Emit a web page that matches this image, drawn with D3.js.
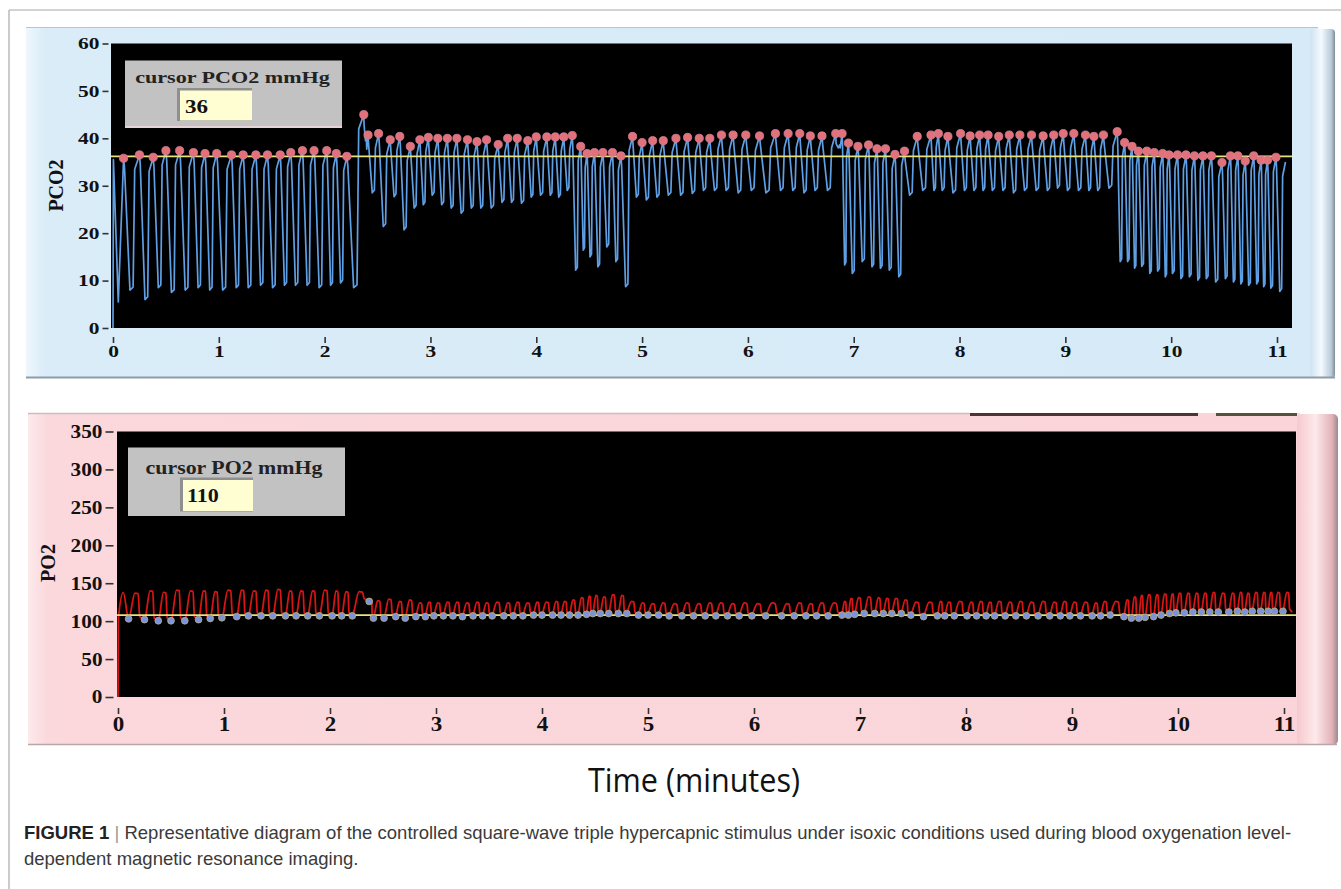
<!DOCTYPE html>
<html><head><meta charset="utf-8">
<script src="https://cdn.jsdelivr.net/npm/d3@7"></script>
<style>
body{margin:0;background:#fff;}
svg{display:block;}
</style></head><body>
<svg id="chart" width="1341" height="889"></svg>
<script>
// ---------------- DATA ----------------
const timeTicks = [0,1,2,3,4,5,6,7,8,9,10,11];
const pco2Ticks = [0,10,20,30,40,50,60];
const po2Ticks  = [0,50,100,150,200,250,300,350];

// time (min) of each end-tidal marker (one per breath)
const breathTime = [
 0.10,0.25,0.38,0.50,0.63,0.76,0.87,0.98,1.12,1.23,1.35,1.46,1.58,1.68,1.79,1.90,2.02,2.11,2.21,
 2.37,2.41,2.51,2.62,2.71,2.81,2.90,2.98,3.07,3.16,3.25,3.35,3.44,3.53,3.64,3.73,3.82,3.92,4.00,4.10,4.18,4.26,4.34,
 4.42,4.48,4.55,4.63,4.72,4.80,
 4.91,5.00,5.10,5.20,5.32,5.43,5.54,5.64,5.75,5.86,5.98,6.11,6.26,6.38,6.49,6.59,6.70,6.83,6.89,
 6.95,7.04,7.14,7.22,7.30,7.39,7.48,
 7.60,7.73,7.80,7.89,8.01,8.10,8.19,8.27,8.37,8.47,8.57,8.68,8.79,8.89,8.98,9.08,9.19,9.27,9.36,9.49,
 9.56,9.63,9.69,9.77,9.84,9.92,9.98,10.06,10.14,10.22,10.30,10.38,10.48,10.56,10.63,10.70,10.78,10.85,10.91,10.99
];
// end-tidal PCO2 (mmHg), red markers
const etPCO2 = [
 35.8,36.5,36,37.4,37.4,37,36.8,36.8,36.5,36.5,36.5,36.5,36.5,37,37.4,37.4,37.4,36.8,36.2,
 45,40.7,41,39.7,40.4,38.3,39.7,40.2,40,40,40,39.7,39.3,39.7,38.7,40,40,39.5,40.3,40.3,40.3,40.3,40.6,
 38.3,36.8,37,37,37,36.3,
 40.4,39.1,39.5,39.5,40,40.2,40,40,40.7,40.7,40.7,40.5,41,41,41,40.5,40.5,41,41,
 39,38.3,38.6,37.8,37.8,36.6,37.3,
 40.4,40.7,41,40.4,41,40.5,40.7,40.7,40.4,40.7,40.7,40.7,40.5,40.7,41,41,40.7,40.4,40.7,41.4,
 39.1,38.3,37.3,37.3,37,36.8,36.5,36.5,36.5,36.3,36.3,36.3,34.9,36.3,36.3,35.2,36.3,35.4,35.4,36
];
// inspired (trough) PCO2 following each breath
const inspPCO2 = [
 8,6,8.5,7.5,8,8.5,8,8,8.5,8.5,9,8.5,9,9,9,8.5,9,9.5,8.5,
 39.5,28.5,21.4,27.7,20.7,25.3,26,28,26,25.3,24.2,25.3,25.3,25.3,26.5,26.5,26.3,27.6,28,28,27.6,29,12.2,
 16.4,15,12.9,17.1,14,8.7,
 27.6,27,27.6,28,28,28.4,29,29,29,28.5,29,28.5,29,29,28.5,29,29,38,13.3,
 11.5,14,12.9,12.6,12.2,10.8,28,
 29,29,29,28.5,29,29,29,29,29,28.5,29,29,29,29.5,29,29,29,29,29.5,14,
 14,12.6,13,11.5,12,10.8,11.5,10.4,10.8,10.1,10.4,9.7,10.4,9.7,9.3,9,9.3,8.7,8.4,7.7
];
// end-tidal PO2 (mmHg), blue markers
const etPO2 = [
 103,102,100.5,100.5,100.5,102,103.5,104.5,106,107,107,107,107,107,107,107,107,107,107,
 126,104,104,106,104,106,106,107,107,107,106,107,107,107,107,107,107,108,108,108,108,108,108,
 109,110,110,110,110,110,
 108,108,108,107,107,107,107,107,107,107,107,107,107,107,107,107,107,108,108,
 109,110,110,110,110,110,108,
 106,107,107,107,107,107,107,107,107,107,107,107,107,107,107,107,107,107,108,106,
 104,104,105,106,108,110,111,111,112,112,112,112,112,113,112,113,113,113,113,113
];
// inspired (peak) PO2 following each breath
const inspPO2 = [
 137,140,138,141,140,140,139,141,141,140,141,142,140,140,140,141,140,139,139,
 128,127,129,126,128,124,125,124,125,125,124,125,124,125,124,125,124,125,125,126,126,128,131,
 133,134,132,135,134,126,
 124,123,124,123,124,123,124,124,123,124,123,124,123,124,123,124,124,126,130,
 131,132,131,130,130,128,125,
 125,126,125,126,125,126,125,126,125,126,125,126,125,126,125,125,124,126,126,128,
 132,134,135,135,136,136,137,137,137,137,138,137,137,138,137,138,138,138,138,138
];
// beginning and end of the recording
const startTime = [0, 0.004, 0.05];
const startPCO2 = [0, 35.5, 5.5];
const startPO2  = [0, 104, 138];
const endTime = 11.08;
const endPCO2 = 35;
const endPO2  = 112;
// cursor / reference levels
const cursorPCO2 = 36;
const cursorPO2  = 110;
const refPCO2 = 36.2;
const refPO2  = 108;

// ---------------- DRAWING ----------------
const svg = d3.select("#chart");
const defs = svg.append("defs");
const SERIF = "'Liberation Serif','Times New Roman',serif";

function stretch(sel, sx){
  sel.each(function(){
    const t = d3.select(this);
    const x = +t.attr("x") || 0, y = +t.attr("y") || 0;
    t.attr("transform", `translate(${x},${y}) scale(${sx},1) translate(${-x},${-y})`);
  });
}
function grad(id, stops, x2, y2){
  const g = defs.append("linearGradient").attr("id", id)
    .attr("x1",0).attr("y1",0).attr("x2",x2).attr("y2",y2);
  stops.forEach(s => g.append("stop").attr("offset", s[0]).attr("stop-color", s[1]));
}
grad("blueBg", [[0,"#eef7fd"],[0.015,"#d9ecf8"],[1,"#d6eaf7"]], 1, 0);
grad("pinkBg", [[0,"#fdeaec"],[0.015,"#fbd8dc"],[1,"#fad4d8"]], 1, 0);
grad("blueBar", [[0,"#cfe3f1"],[0.45,"#f4fafe"],[0.85,"#b9cbd8"],[1,"#7d8c98"]], 1, 0);
grad("pinkBar", [[0,"#f6c9cd"],[0.45,"#fde9eb"],[0.85,"#e3b3b8"],[1,"#9a8a8c"]], 1, 0);

// figure frame
svg.append("line").attr("x1",9).attr("y1",10).attr("x2",1341).attr("y2",10).attr("stroke","#a8a8a8").attr("stroke-width",1.2);
svg.append("line").attr("x1",9).attr("y1",10).attr("x2",9).attr("y2",889).attr("stroke","#a8a8a8").attr("stroke-width",1.2);

// breath-by-breath waveform built from the per-breath values
function buildSeries(times, et, insp, sT, sV, eT, eV, rise){
  const pts = sT.map((t,i)=>({t, v:sV[i]}));
  for(let i=0;i<times.length;i++){
    const t = times[i];
    const last = i === times.length-1;
    const nt = last ? eT : times[i+1];
    const nv = last ? eV : et[i+1];
    const d = nt - t;
    pts.push({t, v:et[i]});
    pts.push({t:t+0.06*d, v:et[i] - rise*0.7});
    pts.push({t:t+0.40*d, v:insp[i]});
    pts.push({t:t+0.60*d, v:insp[i] + rise*0.2});
    pts.push({t:t+0.70*d, v:nv - rise});
  }
  pts.push({t:eT, v:eV});
  return pts;
}

// ======== TOP PANEL (PCO2) ========
const panelT = svg.append("g");
panelT.append("rect").attr("x",26).attr("y",27).attr("width",1292).attr("height",351).attr("fill","url(#blueBg)");
panelT.append("rect").attr("x",1310).attr("y",29).attr("width",25).attr("height",349).attr("rx",4).attr("fill","url(#blueBar)");
panelT.append("line").attr("x1",26).attr("y1",27.5).attr("x2",1318).attr("y2",27.5).attr("stroke","#b4c6d4");
panelT.append("line").attr("x1",26).attr("y1",377.5).attr("x2",1335).attr("y2",377.5).attr("stroke","#8e9ca8").attr("stroke-width",2);

const xTop = d3.scaleLinear().domain([0,11]).range([113,1277]);
const yTop = d3.scaleLinear().domain([0,60]).range([328,43.5]);
panelT.append("rect").attr("x",111).attr("y",43.5).attr("width",1181).attr("height",284.5).attr("fill","#000");
defs.append("clipPath").attr("id","clipTop").append("rect").attr("x",111).attr("y",43.5).attr("width",1181).attr("height",284.5);

const gyT = panelT.append("g").attr("transform","translate(108.5,0)")
  .call(d3.axisLeft(yTop).tickValues(pco2Ticks).tickSize(6).tickPadding(3));
const gxT = panelT.append("g").attr("transform","translate(0,337)")
  .call(d3.axisBottom(xTop).tickValues(timeTicks).tickSize(6).tickPadding(2));
[gyT,gxT].forEach(g=>{
  g.select(".domain").remove();
  g.selectAll(".tick line").attr("stroke","#333").attr("stroke-width",1.6);
  g.selectAll(".tick text").attr("font-family",SERIF).attr("font-weight","bold").attr("font-size",16.5).attr("fill","#111");
  stretch(g.selectAll(".tick text"), 1.3);
});
panelT.append("text").attr("transform","translate(63,185.5) rotate(-90)").attr("text-anchor","middle")
  .attr("font-family",SERIF).attr("font-weight","bold").attr("font-size",20).attr("fill","#111").text("PCO2");

const plotT = panelT.append("g").attr("clip-path","url(#clipTop)");
const pco2Pts = buildSeries(breathTime, etPCO2, inspPCO2, startTime, startPCO2, endTime, endPCO2, 3);
plotT.append("path").datum(pco2Pts)
  .attr("d", d3.line().x(d=>xTop(d.t)).y(d=>yTop(d.v)))
  .attr("fill","none").attr("stroke","#5f9fe4").attr("stroke-width",1.7).attr("stroke-linejoin","round");
plotT.append("line").attr("x1",111).attr("x2",1292).attr("y1",yTop(refPCO2)).attr("y2",yTop(refPCO2))
  .attr("stroke","#e7e27c").attr("stroke-width",1.8);
plotT.selectAll("circle.et").data(breathTime).join("circle").attr("class","et")
  .attr("cx",d=>xTop(d)).attr("cy",(d,i)=>yTop(etPCO2[i])).attr("r",4.1)
  .attr("fill","#e2717a").attr("stroke","#d4829a").attr("stroke-width",0.8);

// cursor box (top)
panelT.append("rect").attr("x",125).attr("y",60.5).attr("width",217).attr("height",67.5).attr("fill","#c2c2c2");
panelT.append("line").attr("x1",125).attr("x2",342).attr("y1",127).attr("y2",127).attr("stroke","#f0d8dc").attr("stroke-width",1.5);
panelT.append("rect").attr("x",177).attr("y",88).attr("width",75).attr("height",33).attr("fill","#8f8f8f");
panelT.append("rect").attr("x",180).attr("y",90.5).attr("width",72).attr("height",30).attr("fill","#fefed2");
const tl = panelT.append("text").attr("x",232.5).attr("y",83).attr("text-anchor","middle")
  .attr("font-family",SERIF).attr("font-weight","bold").attr("font-size",17).attr("fill","#222").text("cursor PCO2 mmHg");
stretch(tl,1.3);
const tv = panelT.append("text").attr("x",185).attr("y",113).attr("font-family",SERIF).attr("font-weight","bold")
  .attr("font-size",18).attr("fill","#111").text(cursorPCO2);
stretch(tv,1.28);

// ======== BOTTOM PANEL (PO2) ========
const panelB = svg.append("g");
panelB.append("rect").attr("x",28).attr("y",413).attr("width",1272).attr("height",332).attr("fill","url(#pinkBg)");
panelB.append("rect").attr("x",1297).attr("y",414).attr("width",41).attr("height",331).attr("rx",5).attr("fill","url(#pinkBar)");
panelB.append("line").attr("x1",28).attr("y1",413.5).attr("x2",970).attr("y2",413.5).attr("stroke","#cdbcbe").attr("stroke-width",1.5);
panelB.append("line").attr("x1",970).attr("y1",414.5).attr("x2",1198).attr("y2",414.5).attr("stroke","#4e3434").attr("stroke-width",3);
panelB.append("line").attr("x1",1216).attr("y1",414.5).attr("x2",1297).attr("y2",414.5).attr("stroke","#55523e").attr("stroke-width",3);
panelB.append("line").attr("x1",28).attr("y1",744.5).attr("x2",1337).attr("y2",744.5).attr("stroke","#b9a6a8").attr("stroke-width",1.5);

const xBot = d3.scaleLinear().domain([0,11]).range([118,1284]);
const yBot = d3.scaleLinear().domain([0,350]).range([697,431.5]);
panelB.append("rect").attr("x",117).attr("y",431.5).attr("width",1179).attr("height",265.5).attr("fill","#000");
defs.append("clipPath").attr("id","clipBot").append("rect").attr("x",117).attr("y",431.5).attr("width",1179).attr("height",265.5);

const gyB = panelB.append("g").attr("transform","translate(113.5,0)")
  .call(d3.axisLeft(yBot).tickValues(po2Ticks).tickSize(8).tickPadding(3));
const gxB = panelB.append("g").attr("transform","translate(0,708)")
  .call(d3.axisBottom(xBot).tickValues(timeTicks).tickSize(6).tickPadding(3));
gyB.select(".domain").remove(); gxB.select(".domain").remove();
gyB.selectAll(".tick text").attr("font-size",18.5);
gxB.selectAll(".tick text").attr("font-size",20);
[gyB,gxB].forEach(g=>{
  g.selectAll(".tick line").attr("stroke","#333").attr("stroke-width",1.6);
  g.selectAll(".tick text").attr("font-family",SERIF).attr("font-weight","bold").attr("fill","#111");
  stretch(g.selectAll(".tick text"), 1.15);
});
panelB.append("text").attr("transform","translate(55,563) rotate(-90)").attr("text-anchor","middle")
  .attr("font-family",SERIF).attr("font-weight","bold").attr("font-size",20).attr("fill","#111").text("PO2");

const plotB = panelB.append("g").attr("clip-path","url(#clipBot)");
const po2Pts = buildSeries(breathTime, etPO2, inspPO2, startTime, startPO2, endTime, endPO2, -4);
plotB.append("path").datum(po2Pts)
  .attr("d", d3.line().curve(d3.curveMonotoneX).x(d=>xBot(d.t)).y(d=>yBot(d.v)))
  .attr("fill","none").attr("stroke","#d81414").attr("stroke-width",1.8).attr("stroke-linejoin","round");
plotB.append("line").attr("x1",117).attr("x2",1296).attr("y1",yBot(refPO2)).attr("y2",yBot(refPO2))
  .attr("stroke","#e7e27c").attr("stroke-width",1.8);
plotB.selectAll("circle.et").data(breathTime).join("circle").attr("class","et")
  .attr("cx",d=>xBot(d)).attr("cy",(d,i)=>yBot(etPO2[i])).attr("r",3.4)
  .attr("fill","#7d92dc").attr("stroke","#b8b070").attr("stroke-width",0.8);

// cursor box (bottom)
panelB.append("rect").attr("x",128).attr("y",447.5).attr("width",217).attr("height",68.5).attr("fill","#c2c2c2");
panelB.append("rect").attr("x",180).attr("y",477.5).attr("width",73).attr("height",34).attr("fill","#8f8f8f");
panelB.append("rect").attr("x",183).attr("y",480).attr("width",70).attr("height",31).attr("fill","#fefed2");
const bl = panelB.append("text").attr("x",234).attr("y",474).attr("text-anchor","middle")
  .attr("font-family",SERIF).attr("font-weight","bold").attr("font-size",19).attr("fill","#222").text("cursor PO2 mmHg");
stretch(bl,1.15);
const bv = panelB.append("text").attr("x",187).attr("y",502.5).attr("font-family",SERIF).attr("font-weight","bold")
  .attr("font-size",19).attr("fill","#111").text(cursorPO2);
stretch(bv,1.16);

// ======== AXIS TITLE + CAPTION ========
const tt = svg.append("text").attr("x",694).attr("y",792).attr("text-anchor","middle")
  .attr("font-family","'Open Sans',sans-serif").attr("font-size",33).attr("fill","#111").text("Time (minutes)");
stretch(tt, 212/tt.node().getComputedTextLength());

const cap1 = svg.append("text").attr("x",24).attr("y",839)
  .attr("font-family","'Liberation Sans',Arial,sans-serif").attr("font-size",18).attr("fill","#3a3a3a");
cap1.append("tspan").attr("font-weight","bold").attr("fill","#222").text("FIGURE 1");
cap1.append("tspan").attr("fill","#9a9a9a").text(" | ");
cap1.append("tspan").text("Representative diagram of the controlled square-wave triple hypercapnic stimulus under isoxic conditions used during blood oxygenation level-");
const capSx = 1268/cap1.node().getComputedTextLength();
stretch(cap1, capSx);
const cap2 = svg.append("text").attr("x",24).attr("y",865)
  .attr("font-family","'Liberation Sans',Arial,sans-serif").attr("font-size",18).attr("fill","#3a3a3a")
  .text("dependent magnetic resonance imaging.");
stretch(cap2, capSx);
</script>
</body></html>
